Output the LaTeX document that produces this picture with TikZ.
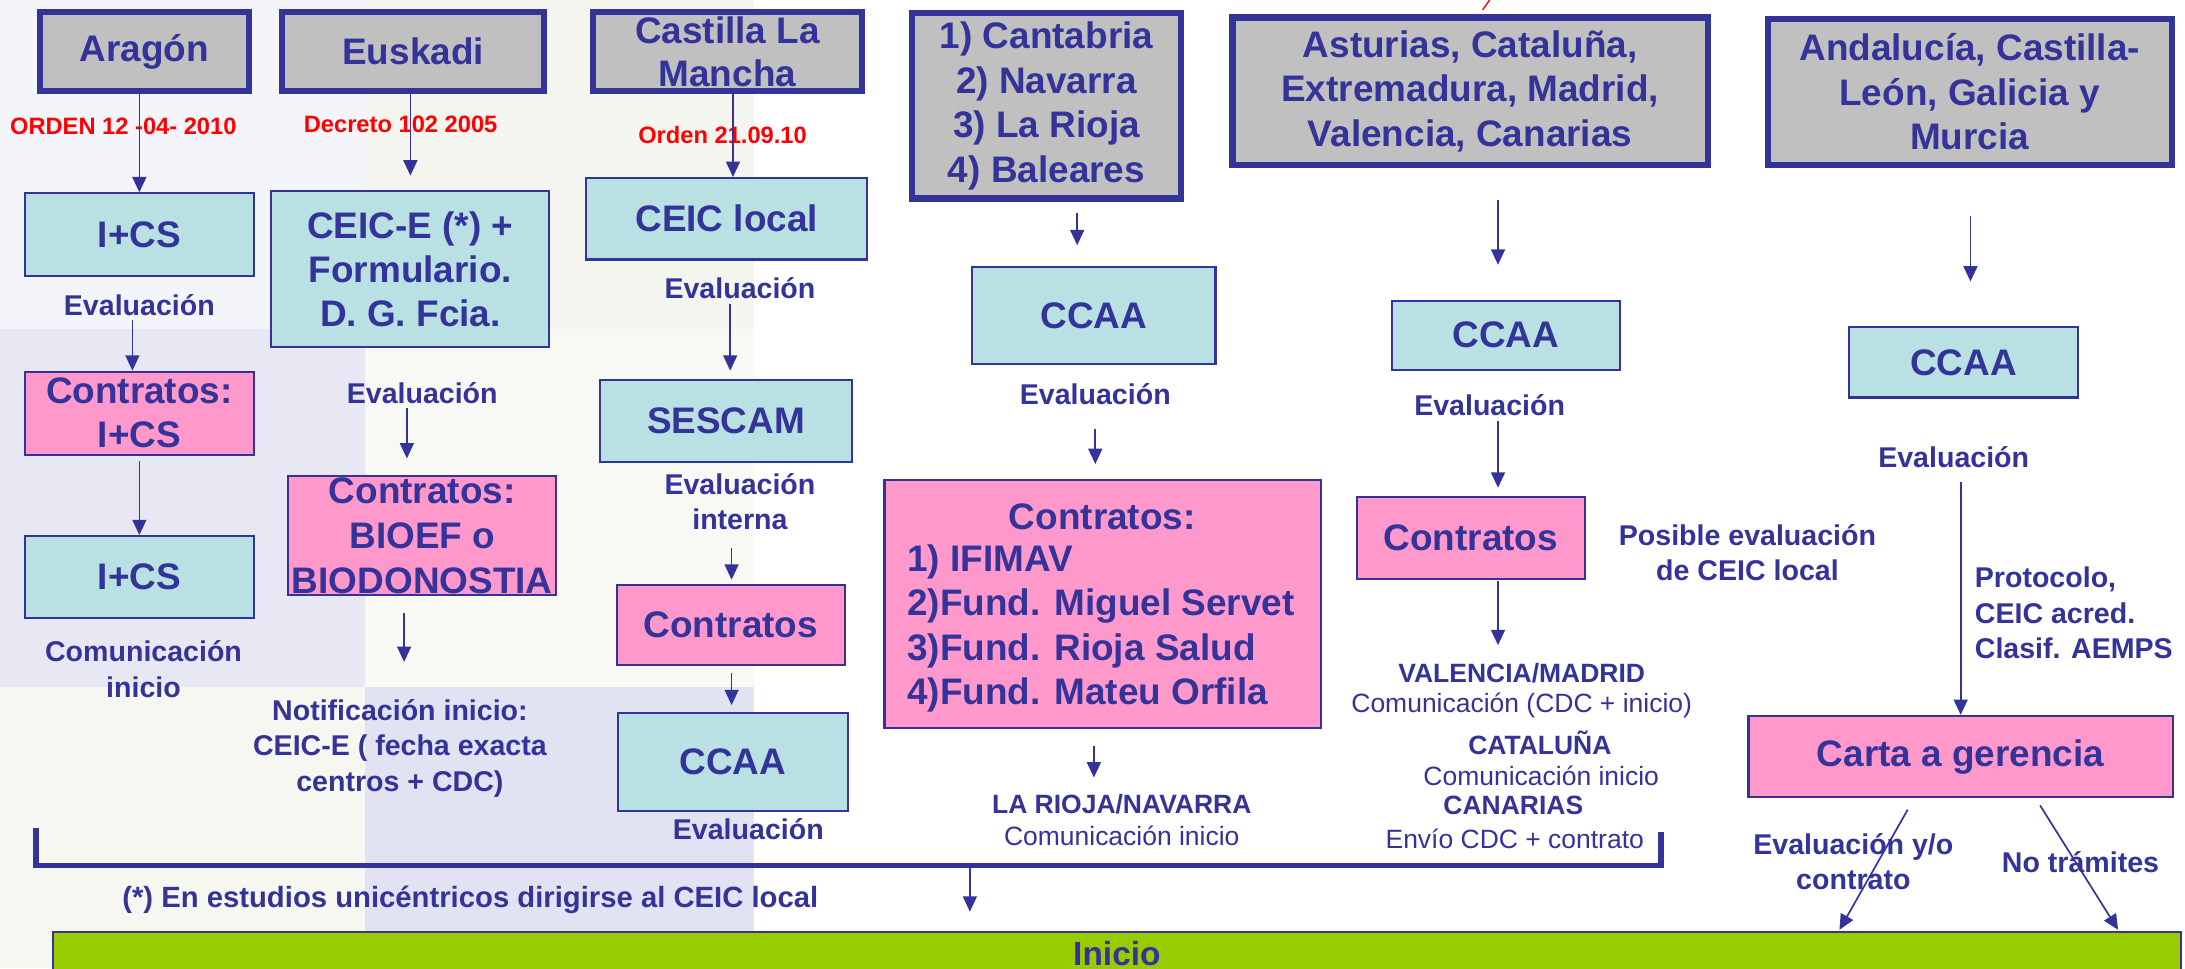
\documentclass[tikz,border=0pt]{standalone}
\usepackage{fontspec}
\setmainfont{Liberation Sans}
\usetikzlibrary{arrows.meta,calc}
\definecolor{navy}{HTML}{333399}
\definecolor{gboxc}{HTML}{C0C0C0}
\definecolor{lblue}{HTML}{B9E0E3}
\definecolor{pinkc}{HTML}{FF99CC}
\definecolor{greenc}{HTML}{99CC00}
\definecolor{redc}{HTML}{FF0000}
\definecolor{bgA}{HTML}{F4F4FB}
\definecolor{bgB}{HTML}{F4F5EE}
\definecolor{bgC}{HTML}{E8E8F5}
\definecolor{bgD}{HTML}{F8F9F4}
\definecolor{bgE}{HTML}{F6F7F0}
\definecolor{bgF}{HTML}{E1E2F2}
\tikzset{
  grayb/.style={draw=navy, line width=4.5pt, fill=gboxc, inner sep=0pt, align=center, text=navy,
    font=\bfseries\fontsize{26.5}{32}\selectfont},
  blueb/.style={draw=navy, line width=1.5pt, fill=lblue, inner sep=0pt, align=center, text=navy,
    font=\bfseries\fontsize{26.5}{31.5}\selectfont},
  pinkb/.style={draw=navy, line width=1.5pt, fill=pinkc, inner sep=0pt, align=center, text=navy,
    font=\bfseries\fontsize{26.5}{31.5}\selectfont},
  lab/.style={text=navy, font=\bfseries\fontsize{20.5}{25.5}\selectfont, align=center, inner sep=0pt},
  sml/.style={text=navy, font=\bfseries\fontsize{19}{23}\selectfont, inner sep=0pt},
  smr/.style={text=navy, font=\fontsize{19}{23}\selectfont, inner sep=0pt},
  redl/.style={text=redc, font=\bfseries\fontsize{17}{20}\selectfont, inner sep=0pt},
  arr/.style={draw=navy, line width=1.2pt, -{Triangle[width=10pt,length=11pt]}},
}
\begin{document}
\begin{tikzpicture}[x=1pt,y=-1pt]
% canvas and background blocks
\fill[white] (0,0) rectangle (1568,695);
\useasboundingbox (0,0) rectangle (1568,695);
\fill[bgA] (0,0) rectangle (262,236);
\fill[bgB] (262,0) rectangle (541,236);
\fill[bgC] (0,236) rectangle (262,493);
\fill[bgD] (262,236) rectangle (541,493);
\fill[bgE] (0,493) rectangle (262,695);
\fill[bgF] (262,493) rectangle (541,695);
\draw[redc, line width=1pt] (1069,0) -- (1064,7);

% top gray boxes
\node[grayb, minimum width=150pt, minimum height=57pt] (arag) at (103.5,37) {Aragón};
\node[grayb, minimum width=188pt, minimum height=57pt] (eusk) at (296.5,37) {Euskadi};
\node[grayb, minimum width=193pt, minimum height=57pt, font=\bfseries\fontsize{26.5}{31}\selectfont] (cast) at (522,37) {Castilla La\\Mancha};
\node[grayb, minimum width=193pt, minimum height=133pt] (cant) at (751,76) {1) Cantabria\\2) Navarra\\3) La Rioja\\4) Baleares};
\node[grayb, minimum width=341pt, minimum height=106pt] (astu) at (1055,65.5) {Asturias, Cataluña,\\Extremadura, Madrid,\\Valencia, Canarias};
\node[grayb, minimum width=290pt, minimum height=105pt] (anda) at (1413.5,66) {Andalucía, Castilla-\\León, Galicia y\\Murcia};

% red labels
\node[redl] (r1) at (88.5,91) {ORDEN 12 -04- 2010};
\node[redl] (r2) at (287.5,89) {Decreto 102 2005};
\node[redl] (r3) at (518.5,97) {Orden 21.09.10};

% column 1
\node[blueb, minimum width=164.5pt, minimum height=59.5pt] (ics1) at (100,168.5) {I+CS};
\node[lab] (ev1) at (100,219) {Evaluación};
\node[pinkb, minimum width=164.5pt, minimum height=59.5pt] (cont1) at (100,296.5) {Contratos:\\I+CS};
\node[blueb, minimum width=164.5pt, minimum height=58.5pt] (ics2) at (100,414) {I+CS};
\node[lab, font=\bfseries\fontsize{20.5}{26}\selectfont] (com1) at (103,480) {Comunicación\\inicio};

% column 2
\node[blueb, minimum width=199.5pt, minimum height=112.5pt] (ceice) at (294.5,193) {CEIC-E (*) +\\Formulario.\\D. G. Fcia.};
\node[lab] (ev2) at (303,282) {Evaluación};
\node[pinkb, minimum width=192.5pt, minimum height=85.5pt, font=\bfseries\fontsize{26.5}{32}\selectfont] (bioef) at (303,384.5) {Contratos:\\BIOEF o\\BIODONOSTIA};
\node[lab] (notif) at (287,537) {Notificación inicio:\\CEIC-E ( fecha exacta\\centros + CDC)};

% column 3
\node[blueb, minimum width=201.5pt, minimum height=58.5pt] (ceicl) at (521.5,157) {CEIC local};
\node[lab] (ev3) at (531,207) {Evaluación};
\node[blueb, minimum width=180.5pt, minimum height=58.5pt] (sescam) at (521,302) {SESCAM};
\node[lab] (ev3b) at (531,360) {Evaluación\\interna};
\node[pinkb, minimum width=163.5pt, minimum height=57.5pt] (cont3) at (524.5,448.5) {Contratos};
\node[blueb, minimum width=164.5pt, minimum height=70.5pt] (ccaa3) at (526,547) {CCAA};
\node[lab] (ev3c) at (537,595) {Evaluación};

% column 4
\node[blueb, minimum width=174.5pt, minimum height=69.5pt] (ccaa4) at (785,226.5) {CCAA};
\node[lab] (ev4) at (786,283) {Evaluación};
\node[pinkb, minimum width=313.5pt, minimum height=177.5pt] (big) at (791.5,433.5) {};
\node[lab, font=\bfseries\fontsize{26.5}{32}\selectfont] (bigt) at (791,371) {Contratos:};
\node[lab, anchor=west, align=left, font=\bfseries\fontsize{26.5}{32}\selectfont] (bigl) at (651,451) {1) IFIMAV\\2)Fund. Miguel Servet\\3)Fund. Rioja Salud\\4)Fund. Mateu Orfila};
\node[sml] (larb) at (805,577) {LA RIOJA/NAVARRA};
\node[smr] (larr) at (805,600) {Comunicación inicio};

% column 5
\node[blueb, minimum width=163.5pt, minimum height=49.5pt] (ccaa5) at (1080.5,240.5) {CCAA};
\node[lab] (ev5) at (1069,291) {Evaluación};
\node[pinkb, minimum width=163.5pt, minimum height=58.5pt] (cont5) at (1055.5,386) {Contratos};
\node[lab] (posib) at (1254,396.5) {Posible evaluación\\de CEIC local};
\node[sml] (valb) at (1092,483) {VALENCIA/MADRID};
\node[smr] (valr) at (1092,506) {Comunicación (CDC + inicio)};
\node[sml] (catb) at (1105,533) {CATALUÑA};
\node[smr] (catr) at (1106,557) {Comunicación inicio};
\node[sml] (canb) at (1086,578) {CANARIAS};
\node[smr] (canr) at (1087,602) {Envío CDC + contrato};

% column 6
\node[blueb, minimum width=164.5pt, minimum height=50.5pt] (ccaa6) at (1409,260) {CCAA};
\node[lab] (ev6) at (1402,328) {Evaluación};
\node[lab, anchor=west, align=left] (proto) at (1417,440) {Protocolo,\\CEIC acred.\\Clasif. AEMPS};
\node[pinkb, minimum width=304.5pt, minimum height=58.5pt] (carta) at (1407,543) {Carta a gerencia};
\node[lab] (evalyo) at (1330,618.5) {Evaluación y/o\\contrato};
\node[lab] (notram) at (1493,619) {No trámites};

% footnote and start bar
\node[lab, font=\bfseries\fontsize{21}{25}\selectfont] (foot) at (337.5,646) {(*) En estudios unicéntricos dirigirse al CEIC local};
\node[draw=navy, line width=1.5pt, fill=greenc, inner sep=0pt, minimum width=1527.5pt, minimum height=30pt,
      text=navy, font=\bfseries\fontsize{24}{28}\selectfont] (inicio) at (801.5,684) {Inicio};

% bracket
\coordinate (bl) at (26,594);
\coordinate (bm) at (696,621);
\coordinate (br) at (1192,597);
\draw[navy, line width=4pt] (bl) |- (bm) -| (br);

% arrows
\draw[arr] (ics1.north |- arag.south) -- (ics1.north);
\draw[arr] ($(cont1.north |- ev1.south)+(-5,3)$) -- ($(cont1.north)+(-5,0)$);
\draw[arr] ($(cont1.south)+(0,4)$) -- (ics2.north);
\draw[arr] (ceice.north |- eusk.south) -- ($(ceice.north)+(0,-10)$);
\draw[arr] ($(bioef.north |- ev2.south)+(-11,3)$) -- ($(bioef.north)+(-11,-12)$);
\draw[arr] ($(bioef.south)+(-13,12)$) -- ($(bioef.south)+(-13,47)$);
\draw[arr] ($(ceicl.north |- cast.south)+(4.5,0)$) -- ($(ceicl.north)+(4.5,0)$);
\draw[arr] ($(sescam.north |- ev3.south)+(3,3)$) -- ($(sescam.north)+(3,-6)$);
\draw[arr] ($(cont3.north |- ev3b.south)+(0.5,13)$) -- ($(cont3.north)+(0.5,-3)$);
\draw[arr] ($(cont3.south)+(0.5,5)$) -- ($(ccaa3.north -| cont3.south)+(0.5,-5)$);
\draw[arr] ($(ccaa4.north |- cant.south)+(-12,8)$) -- ($(ccaa4.north)+(-12,-15)$);
\draw[arr] ($(ccaa4.south |- ev4.south)+(1,17)$) -- ($(big.north -| ccaa4.south)+(1,-11)$);
\draw[arr] ($(big.south -| ccaa4.south)+(0,12)$) -- ($(big.south -| ccaa4.south)+(0,35)$);
\draw[arr] ($(ccaa5.north |- astu.south)+(-5.5,23)$) -- ($(ccaa5.north)+(-5.5,-25)$);
\draw[arr] ($(ccaa5.south |- ev5.south)+(-5.5,3)$) -- ($(cont5.north -| ccaa5.south)+(-5.5,-6)$);
\draw[arr] ($(cont5.south -| ccaa5.south)+(-5.5,1)$) -- ($(cont5.south -| ccaa5.south)+(-5.5,47)$);
\draw[arr] ($(anda.south)+(0.5,34)$) -- ($(ccaa6.north -| anda.south)+(0.5,-32)$);
\draw[arr] ($(carta.north |- ev6.south)+(0,10)$) -- (carta.north);
\draw[arr] ($(carta.south)+(-38,8)$) -- ($(inicio.north -| carta.south)+(-87,-1)$);
\draw[arr] ($(carta.south)+(57,5)$) -- ($(inicio.north -| carta.south)+(113,-1)$);
\draw[arr] (bm) -- ($(inicio.north -| bm)+(0,-14)$);
\end{tikzpicture}
\end{document}
